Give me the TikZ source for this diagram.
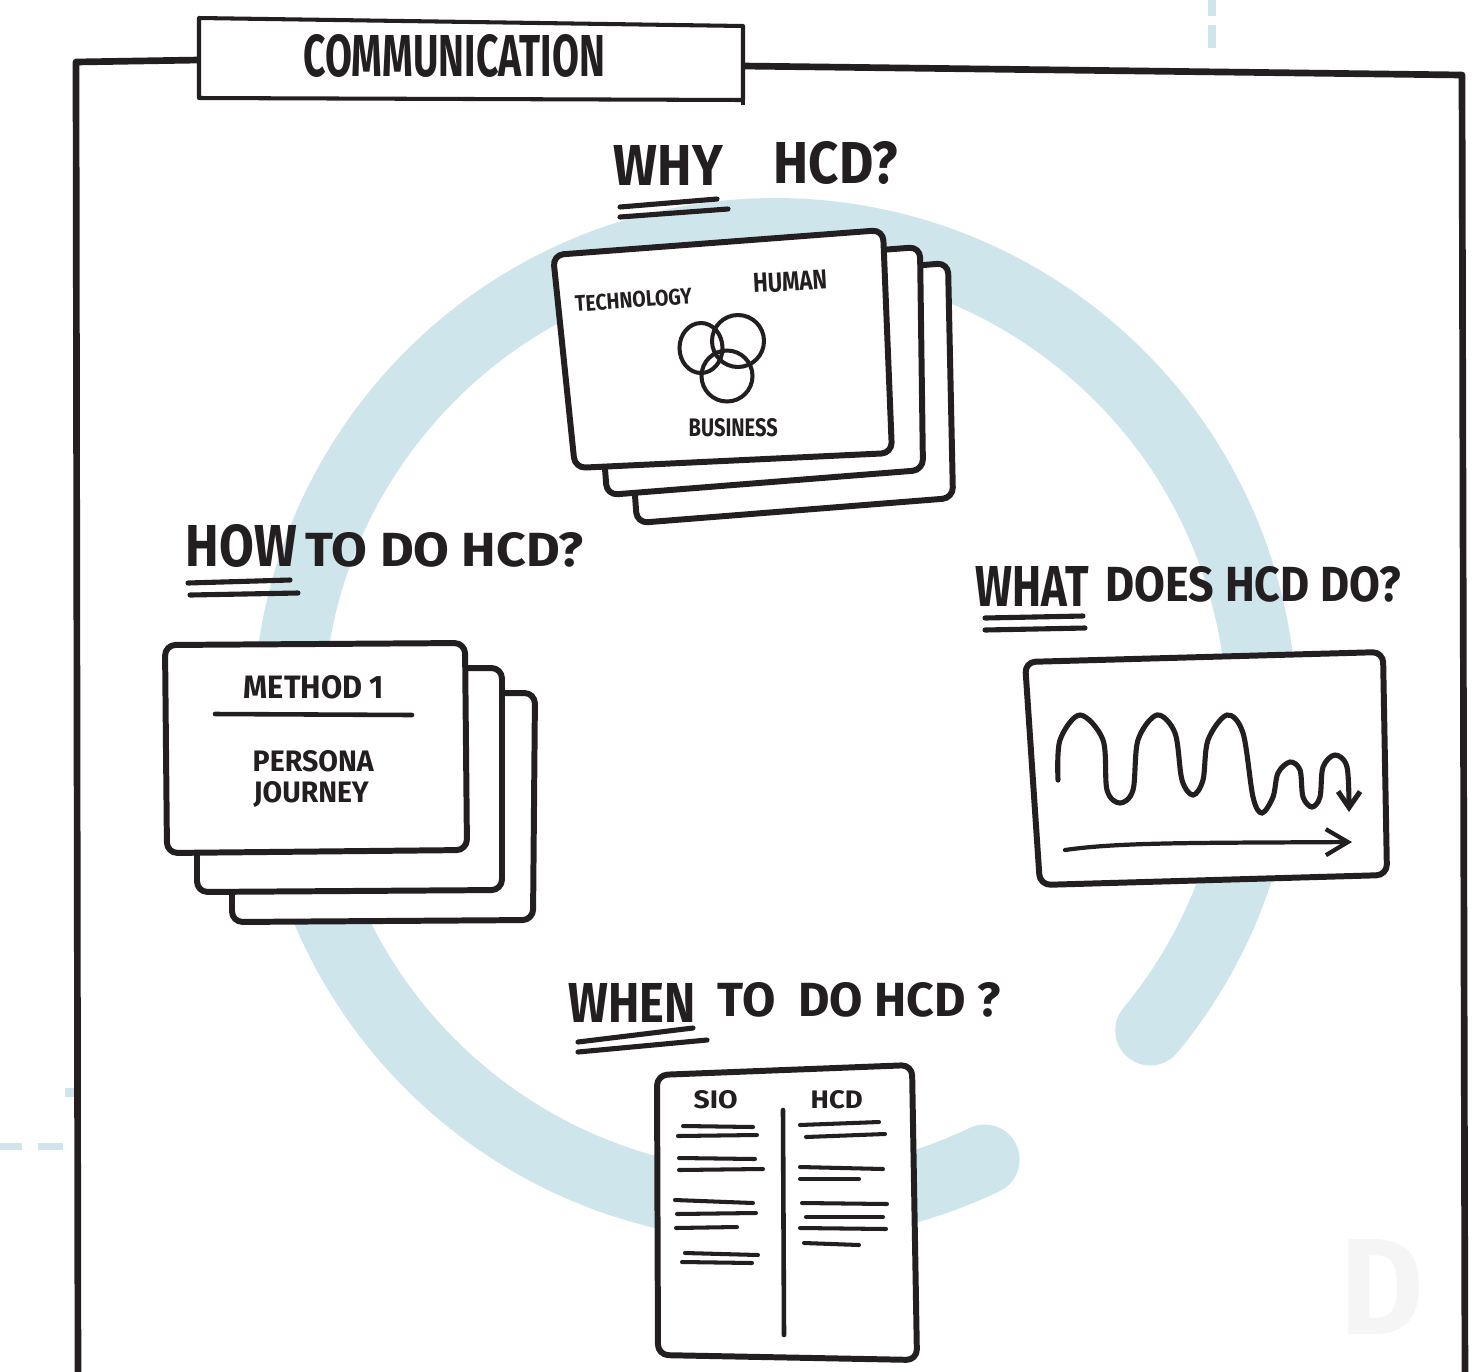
\documentclass[tikz,border=0pt]{standalone}
\usepackage{fontspec}
\setmainfont{Fira Sans}
\usepackage{graphicx}
\usetikzlibrary{arrows.meta}
\definecolor{ringblue}{RGB}{206,229,235}
\definecolor{ink}{RGB}{35,31,32}
\definecolor{wmark}{RGB}{245,245,245}
\newcommand\fitt[3]{\resizebox{#1mm}{#2mm}{#3}}
\begin{document}
\begin{tikzpicture}[x=0.01cm,y=-0.01cm,
  frameline/.style={draw=ink,line width=1.9pt,line cap=round,line join=round},
  boxline/.style={draw=ink,line width=1.15pt,line join=round},
  card/.style={draw=ink,fill=white,line width=1.7pt,rounded corners=3pt,line join=round},
  uline/.style={draw=ink,line width=1.45pt,line cap=round},
  docline/.style={draw=ink,line width=1.15pt,line cap=round},
  txt/.style={inner sep=0pt,anchor=south west,text=ink},
  blueseg/.style={fill=ringblue}]
\useasboundingbox (0,0) rectangle (1481,1372);
\clip (0,0) rectangle (1481,1372);
\fill[white] (0,0) rectangle (1481,1372);

% decorative light dashes
\fill[blueseg] (1208,0) rectangle (1216,16);
\fill[blueseg] (1208,25) rectangle (1216,48);
\fill[blueseg] (0,1143) rectangle (22,1150);
\fill[blueseg] (38,1143) rectangle (63,1150);
\fill[blueseg] (65,1088) rectangle (76,1097);

% blue ring
\coordinate (rc) at (775,720);
\draw[ringblue,line width=19.9pt,line cap=round] (rc) ++(39.6:487) arc[start angle=39.6,end angle=-295.5,radius=487];

% frame
\draw[frameline] (78,1390) -- (76,62) -- (199,60);
\draw[frameline] (743,66) -- (1462,75) -- (1465,1390);
\draw[boxline,fill=white] (199,18) -- (743,26) -- (743,100) -- (199,98) -- cycle;
\draw[boxline] (743,99) -- (743,105);
\node[txt] (comm) at (303,78) {\fitt{30.1}{4.2}{\bfseries COMMUNICATION}};

% WHY HCD? card stack
\draw[card] (620,290) -- (948,263) -- (953,498) -- (637,523) -- cycle;
\draw[card] (590,272) -- (920,247) -- (923,470) -- (607,495) -- cycle;
\draw[card] (553,255) -- (883,230) -- (892,453) -- (575,468) -- cycle;
\draw[ink,line width=1.15pt] (701,348) ellipse[x radius=21.5,y radius=25];
\draw[ink,line width=1.15pt] (738,341) circle[radius=26];
\draw[ink,line width=1.15pt] (727,376) circle[radius=25.5];
\node[txt,rotate=4] (tech) at (575,313) {\fitt{11.7}{1.6}{\bfseries TECHNOLOGY}};
\node[txt,rotate=3] (human) at (753,294) {\fitt{7.4}{1.9}{\bfseries HUMAN}};
\node[txt] (bus) at (688,438) {\fitt{8.9}{1.8}{\bfseries BUSINESS}};

\node[txt] (why) at (613,186) {\fitt{10.9}{4.0}{\bfseries WHY}};
\node[txt] (whyb) at (773,185) {\fitt{12.4}{4.2}{\bfseries HCD?}};
\draw[uline] (620,207) -- (717,199);
\draw[uline] (620,217) -- (728,209);

% HOW TO DO HCD? card stack
\node[txt] (how) at (185,568) {\fitt{11.1}{4.2}{\bfseries HOW}};
\node[txt] (howb) at (305,568) {\fitt{27.8}{3.4}{\bfseries TO DO HCD?}};
\draw[uline] (188,583) -- (290,580);
\draw[uline] (190,595) -- (298,593);
\draw[card] (232,693) -- (535,693) -- (533,920) -- (232,922) -- cycle;
\draw[card] (197,668) -- (502,668) -- (502,890) -- (197,892) -- cycle;
\draw[card] (165,645) -- (465,643) -- (467,850) -- (167,853) -- cycle;
\node[txt] (method) at (243,700) {\fitt{14.0}{2.3}{\bfseries METHOD 1}};
\draw[uline,line width=1.3pt] (215,714) -- (412,715);
\node[txt] (persona) at (252,773) {\fitt{12.1}{2.1}{\bfseries PERSONA}};
\node[txt] (journey) at (253,808) {\fitt{11.5}{2.1}{\bfseries JOURNEY}};

% WHAT DOES HCD DO? card
\node[txt] (what) at (975,607) {\fitt{11.3}{4.0}{\bfseries WHAT}};
\node[txt] (whatb) at (1105,603) {\fitt{29.5}{3.5}{\bfseries DOES HCD DO?}};
\draw[uline] (985,618) -- (1083,616);
\draw[uline] (985,630) -- (1085,628);
\draw[card] (1025,662) -- (1383,652) -- (1387,875) -- (1040,885) -- cycle;
\draw[ink,line width=1.45pt,line cap=round,-{Straight Barb[length=1.6mm,width=2.2mm]}]
  plot[smooth,tension=0.55] coordinates {(1058,780) (1060,740) (1080,715) (1103,740) (1107,790) (1120,803) (1133,790) (1138,740) (1157,715) (1175,733) (1182,780) (1193,795) (1203,780) (1208,740) (1227,715) (1243,733) (1253,797) (1262,813) (1273,797) (1278,773) (1290,762) (1300,770) (1303,797) (1312,807) (1320,797) (1323,767) (1335,755) (1347,767) (1349,812)};
\coordinate (arrs) at (1065,850);
\coordinate (arre) at (1352,842);
\draw[ink,line width=1.2pt,line cap=round,-{Straight Barb[length=2.2mm,width=2.6mm]}]
  (arrs) .. controls (1120,842) and (1200,843) .. (arre);

% WHEN TO DO HCD ? document
\node[txt] (when) at (568,1023) {\fitt{12.7}{3.9}{\bfseries WHEN}};
\node[txt] (whenb) at (717,1018) {\fitt{28.3}{3.4}{\bfseries TO\ \ DO HCD ?}};
\draw[uline] (578,1042) -- (693,1028);
\draw[uline] (578,1052) -- (707,1040);
\draw[card] (657,1075) -- (912,1065) -- (917,1360) -- (658,1355) -- cycle;
\draw[docline,line width=1.3pt] (783,1110) -- (784,1335);
\node[txt] (sio) at (693,1110) {\fitt{4.4}{1.8}{\bfseries SIO}};
\node[txt] (hcdcol) at (810,1110) {\fitt{5.2}{1.8}{\bfseries HCD}};
\draw[docline] (683,1126) -- (753,1127);
\draw[docline] (678,1136) -- (757,1135);
\draw[docline] (679,1158) -- (755,1159);
\draw[docline] (679,1170) -- (763,1169);
\draw[docline] (675,1200) -- (753,1203);
\draw[docline] (677,1214) -- (756,1213);
\draw[docline] (676,1228) -- (737,1227);
\draw[docline] (685,1253) -- (758,1255);
\draw[docline] (682,1262) -- (752,1263);
\draw[docline] (800,1125) -- (879,1122);
\draw[docline] (806,1137) -- (885,1134);
\draw[docline] (800,1167) -- (883,1169);
\draw[docline] (800,1179) -- (859,1179);
\draw[docline] (802,1203) -- (887,1204);
\draw[docline] (806,1217) -- (883,1217);
\draw[docline] (800,1228) -- (886,1229);
\draw[docline] (804,1243) -- (859,1245);

% watermark
\node[txt,text=wmark] (wm) at (1340,1335) {\fitt{8.3}{9.5}{\bfseries D}};
\end{tikzpicture}
\end{document}
